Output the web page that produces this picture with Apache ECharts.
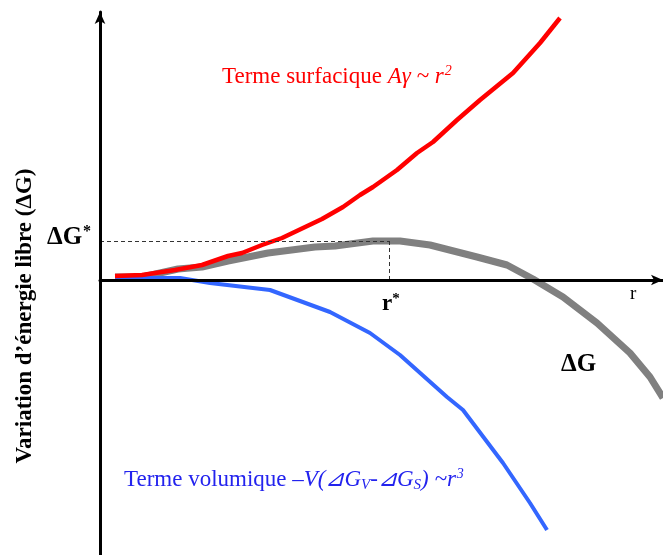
<!DOCTYPE html>
<html>
<head>
<meta charset="utf-8">
<script src="https://cdn.jsdelivr.net/npm/echarts@6/dist/echarts.min.js"></script>
<style>
html, body { margin: 0; padding: 0; background: #fff; }
#chart { width: 663px; height: 555px; }
</style>
</head>
<body>
<div id="chart"></div>
<script>
// valeurs (unités arbitraires)
const surfR = [1.5, 4.2, 7.5, 10.2, 12.8, 14.2, 16.2, 18.2, 22.2, 24.3, 26, 27.3, 29.7, 31.7, 33.3, 35.7, 38, 41.3, 44, 46]
const surfG = [0.4, 0.5, 1.0, 1.5, 2.4, 2.7, 3.5, 4.2, 6.1, 7.3, 8.5, 9.3, 11, 12.7, 13.8, 16, 18, 20.7, 23.7, 26.2]

const volR = [1.5, 8, 11, 17, 23, 27, 30, 34.7, 36.3, 40.3, 43, 44.7]
const volG = [0.2, 0.2, -0.3, -1, -3.2, -5.3, -7.5, -11.7, -13, -18.3, -22.3, -25]

const totR = [1.5, 4.2, 7.8, 10.2, 12.8, 16.8, 21.5, 23.5, 25, 27.3, 30, 33, 37.7, 40.7, 43.3, 46.3, 49.7, 53, 55, 56.3]
const totG = [0.3, 0.3, 1.1, 1.3, 1.9, 2.7, 3.3, 3.4, 3.6, 3.9, 3.9, 3.5, 2.3, 1.5, 0.1, -1.7, -4.3, -7.3, -9.7, -11.8]

// point critique
const rStar = 28.9
const gStar = 3.9

const serif = '"Liberation Serif", "DejaVu Serif", serif'

const chart = echarts.init(document.getElementById('chart'))

const pairs = (xs, ys) => xs.map((x, i) => [x, ys[i]])

chart.setOption({
    animation: false,
    grid: { left: 100, right: 0, top: 12, bottom: 0 },
    xAxis: {
        type: 'value',
        min: 0,
        max: 56.3,
        z: 10,
        axisLine: {
            onZero: true,
            symbol: ['none', 'arrow'],
            symbolSize: [8, 12],
            lineStyle: { color: '#000', width: 3 }
        },
        axisTick: { show: false },
        axisLabel: { show: false },
        splitLine: { show: false }
    },
    yAxis: {
        type: 'value',
        min: -27.5,
        max: 26.8,
        z: 10,
        axisLine: {
            onZero: false,
            symbol: ['none', 'arrow'],
            symbolSize: [8, 12],
            lineStyle: { color: '#000', width: 3 }
        },
        axisTick: { show: false },
        axisLabel: { show: false },
        splitLine: { show: false }
    },
    series: [
        {
            name: 'ΔG',
            type: 'line',
            data: pairs(totR, totG),
            showSymbol: false,
            lineStyle: { color: '#808080', width: 7 },
            z: 2,
            markLine: {
                silent: true,
                symbol: 'none',
                label: { show: false },
                lineStyle: { color: '#333', type: [4, 3], width: 1 },
                data: [
                    [{ coord: [0, gStar] }, { coord: [rStar, gStar] }],
                    [{ coord: [rStar, gStar] }, { coord: [rStar, 0] }]
                ]
            }
        },
        {
            name: 'volumique',
            type: 'line',
            data: pairs(volR, volG),
            showSymbol: false,
            lineStyle: { color: '#3366ff', width: 4 },
            z: 3
        },
        {
            name: 'surfacique',
            type: 'line',
            data: pairs(surfR, surfG),
            showSymbol: false,
            lineStyle: { color: '#ff0000', width: 4.5 },
            z: 4
        }
    ],
    graphic: [
        {
            type: 'text',
            left: 222, top: 64,
            style: {
                text: '{n|Terme surfacique }{i|Aγ ~ r}{s|2}',
                fill: '#ff0000',
                rich: {
                    n: { fontFamily: serif, fontSize: 23, fill: '#ff0000' },
                    i: { fontFamily: serif, fontSize: 23, fontStyle: 'italic', fill: '#ff0000' },
                    s: { fontFamily: serif, fontSize: 14, fontStyle: 'italic', fill: '#ff0000', padding: [0, 0, 11, 1] }
                }
            }
        },
        {
            type: 'text',
            left: 124, top: 467,
            style: {
                text: '{n|Terme volumique }{i|–V(⊿G}{b|V}{i|-⊿G}{b|S}{i|) ~r}{s|3}',
                fill: '#2323ee',
                rich: {
                    n: { fontFamily: serif, fontSize: 23, fill: '#2323ee' },
                    i: { fontFamily: serif, fontSize: 23, fontStyle: 'italic', fill: '#2323ee' },
                    b: { fontFamily: serif, fontSize: 15, fontStyle: 'italic', fill: '#2323ee', padding: [11, 0, 0, 0] },
                    s: { fontFamily: serif, fontSize: 14, fontStyle: 'italic', fill: '#2323ee', padding: [0, 0, 11, 1] }
                }
            }
        },
        {
            type: 'text',
            left: 47, top: 224,
            style: {
                text: '{b|ΔG}{s|*}',
                rich: {
                    b: { fontFamily: serif, fontSize: 25, fontWeight: 'bold', fill: '#000' },
                    s: { fontFamily: serif, fontSize: 16, fontWeight: 'bold', fill: '#000', padding: [0, 0, 11, 1] }
                }
            }
        },
        {
            type: 'text',
            left: 382, top: 292,
            style: {
                text: '{b|r}{s|*}',
                rich: {
                    b: { fontFamily: serif, fontSize: 23, fontWeight: 'bold', fill: '#000' },
                    s: { fontFamily: serif, fontSize: 15, fontWeight: 'bold', fill: '#000', padding: [0, 0, 10, 0] }
                }
            }
        },
        {
            type: 'text',
            left: 630, top: 285,
            style: { text: 'r', font: '19px ' + serif, fill: '#000' }
        },
        {
            type: 'text',
            left: 561, top: 352,
            style: { text: 'ΔG', font: 'bold 25px ' + serif, fill: '#000' }
        },
        {
            type: 'text',
            x: 25, y: 316,
            rotation: Math.PI / 2,
            style: {
                text: 'Variation d’énergie libre (ΔG)',
                font: 'bold 23px ' + serif,
                fill: '#000',
                align: 'center',
                verticalAlign: 'middle'
            }
        }
    ]
})
</script>
</body>
</html>
